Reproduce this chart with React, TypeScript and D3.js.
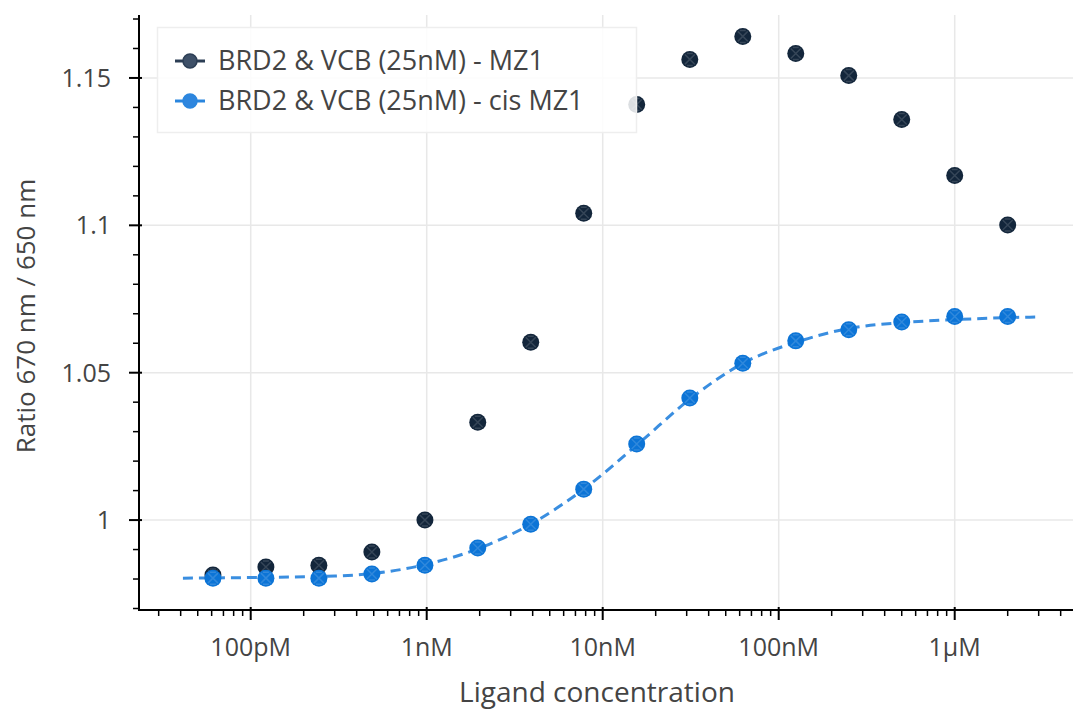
import React from "react";
import * as d3 from "d3";

const concentrations = [
  6.1e-11, 1.22e-10, 2.44e-10, 4.88e-10, 9.77e-10, 1.95e-9, 3.9e-9, 7.8e-9,
  1.56e-8, 3.125e-8, 6.25e-8, 1.25e-7, 2.5e-7, 5e-7, 1e-6, 2e-6,
];
const mz1Values = [
  0.9814, 0.9841, 0.9847, 0.9892, 1.0, 1.0332, 1.0603, 1.1041, 1.141, 1.1563,
  1.1641, 1.1583, 1.1508, 1.1359, 1.1169, 1.1001,
];
const cisValues = [
  0.9803, 0.9803, 0.9803, 0.9817, 0.9847, 0.9905, 0.9986, 1.0105, 1.0258,
  1.0414, 1.0532, 1.0608, 1.0646, 1.0672, 1.0691, 1.0691,
];
const fitX = [
  4.12e-11, 1e-10, 3e-10, 1e-9, 2e-9, 4e-9, 8e-9, 1.6e-8, 3.2e-8, 6.4e-8,
  1.28e-7, 2.5e-7, 5e-7, 1e-6, 2e-6, 2.97e-6,
];
const fitY = [
  0.9803, 0.9805, 0.981, 0.985, 0.9905, 0.999, 1.011, 1.026, 1.0415, 1.0535,
  1.0605, 1.065, 1.067, 1.068, 1.0687, 1.0689,
];
const xTickValues = [1e-10, 1e-9, 1e-8, 1e-7, 1e-6];
const xTickLabels = ["100pM", "1nM", "10nM", "100nM", "1µM"];
const yTickValues = [1.0, 1.05, 1.1, 1.15];
const yTickLabels = ["1", "1.05", "1.1", "1.15"];
const seriesNames = ["BRD2 & VCB (25nM) - MZ1", "BRD2 & VCB (25nM) - cis MZ1"];

const W = 1074;
const H = 715;
const left = 139;
const right = 1073;
const top = 15;
const bottom = 610;
const font = "'Open Sans', 'Noto Sans', sans-serif";
const dark = "#13263b";
const blue = "#0c74d6";

export default function App() {
  const x = d3.scaleLog().domain([2.319e-11, 4.7e-6]).range([left, right]);
  const y = d3.scaleLinear().domain([0.96949, 1.17136]).range([bottom, top]);

  const minorX: number[] = [];
  for (let e = -11; e <= -6; e++) {
    for (let m = 2; m <= 9; m++) {
      const v = m * Math.pow(10, e);
      if (v >= 2.319e-11 && v <= 4.7e-6) minorX.push(v);
    }
  }
  const minorY: number[] = [];
  for (let i = 97; i <= 117; i++) {
    const v = i / 100;
    if (Math.abs(v * 20 - Math.round(v * 20)) > 1e-6) minorY.push(v);
  }

  const line = d3
    .line<number>()
    .x((_, i) => x(fitX[i]))
    .y((d) => y(d))
    .curve(d3.curveMonotoneX);

  const marker = (cx: number, cy: number, color: string, key: string) => (
    <g key={key}>
      <circle cx={cx} cy={cy} r={8.5} fill={color} />
      <path
        d={`M${cx - 5},${cy - 5}L${cx + 5},${cy + 5}M${cx + 5},${cy - 5}L${cx - 5},${cy + 5}M${cx - 3},${cy - 6}L${cx + 3},${cy - 6}M${cx - 3},${cy + 6}L${cx + 3},${cy + 6}`}
        stroke="rgba(255,255,255,0.15)"
        strokeWidth={1.5}
      />
    </g>
  );

  return (
    <svg width={W} height={H} style={{ position: "absolute", left: 0, top: 0, background: "#fff" }}>
      {xTickValues.map((v) => (
        <line key={"gx" + v} x1={x(v)} x2={x(v)} y1={top} y2={bottom} stroke="#e8e8e8" strokeWidth={1.5} />
      ))}
      {yTickValues.map((v) => (
        <line key={"gy" + v} x1={left} x2={right} y1={y(v)} y2={y(v)} stroke="#e8e8e8" strokeWidth={1.5} />
      ))}

      <path d={line(fitY) || ""} fill="none" stroke="#3a8ee0" strokeWidth={3} strokeDasharray="10,6" />

      {concentrations.map((c, i) => marker(x(c), y(mz1Values[i]), dark, "d" + i))}
      {concentrations.map((c, i) => marker(x(c), y(cisValues[i]), blue, "b" + i))}

      <line x1={left} x2={right} y1={bottom} y2={bottom} stroke="#000" strokeWidth={2} />
      <line x1={left} x2={left} y1={top} y2={bottom + 1} stroke="#000" strokeWidth={2} />
      {xTickValues.map((v, i) => (
        <g key={"xt" + v}>
          <line x1={x(v)} x2={x(v)} y1={bottom - 3} y2={bottom + 10} stroke="#000" strokeWidth={2} />
          <text x={x(v)} y={656} textAnchor="middle" fontSize={25} fill="#444" fontFamily={font}>
            {xTickLabels[i]}
          </text>
        </g>
      ))}
      {minorX.map((v) => (
        <line key={"mx" + v} x1={x(v)} x2={x(v)} y1={bottom} y2={bottom + 6} stroke="#000" strokeWidth={1.5} />
      ))}
      {yTickValues.map((v, i) => (
        <g key={"yt" + v}>
          <line x1={left - 10} x2={left + 3} y1={y(v)} y2={y(v)} stroke="#000" strokeWidth={2} />
          <text x={left - 28} y={y(v) + 9} textAnchor="end" fontSize={25} fill="#444" fontFamily={font}>
            {yTickLabels[i]}
          </text>
        </g>
      ))}
      {minorY.map((v) => (
        <line key={"my" + v} x1={left - 6} x2={left} y1={y(v)} y2={y(v)} stroke="#000" strokeWidth={1.5} />
      ))}

      <text x={597} y={702} textAnchor="middle" fontSize={28} fill="#444" fontFamily={font}>
        Ligand concentration
      </text>
      <text
        transform={`translate(35,316) rotate(-90)`}
        textAnchor="middle"
        fontSize={26}
        fill="#444"
        fontFamily={font}
      >
        Ratio 670 nm / 650 nm
      </text>

      <rect x={157.5} y={27.5} width={479} height={105} fill="rgba(255,255,255,0.85)" stroke="#eeeeee" strokeWidth={1.5} />
      {[dark, blue].map((c, i) => (
        <g key={"lg" + i}>
          <line x1={175} x2={205} y1={61 + i * 40} y2={61 + i * 40} stroke={i === 0 ? "#2c3e55" : "#2a86de"} strokeWidth={3} />
          <circle cx={190} cy={61 + i * 40} r={7} fill={i === 0 ? "#3e5068" : "#2e86de"} stroke={i === 0 ? "#2c3e55" : "#2a86de"} strokeWidth={1.5} />
          <text x={218} y={70 + i * 40} fontSize={27} fill="#444" fontFamily={font}>
            {seriesNames[i]}
          </text>
        </g>
      ))}
    </svg>
  );
}
